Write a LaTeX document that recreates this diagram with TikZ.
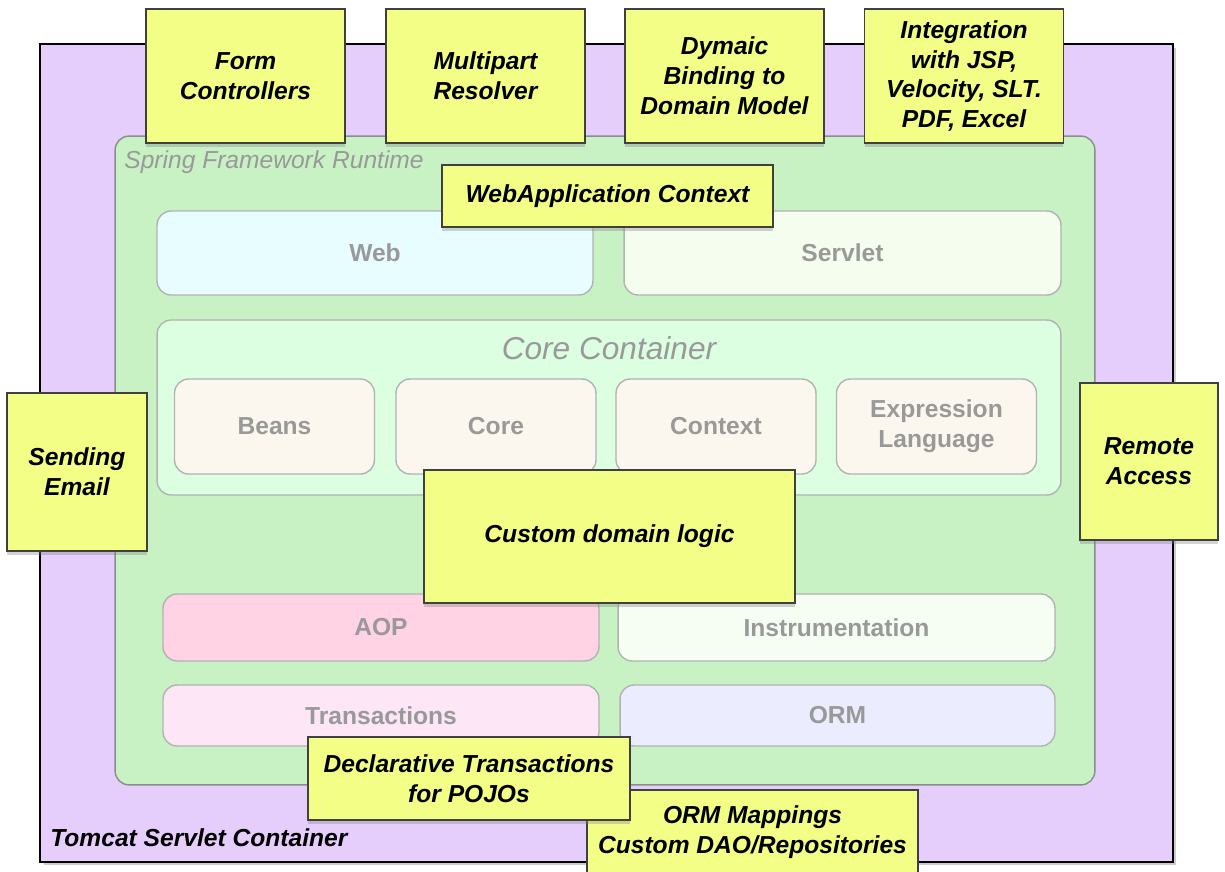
\documentclass[tikz,border=0pt]{standalone}
\usepackage{fontspec}
\setmainfont{Liberation Sans}
\usetikzlibrary{shadows}

\definecolor{tomcatbg}{RGB}{230,206,252}
\definecolor{runtimebg}{RGB}{200,242,196}
\definecolor{corebg}{RGB}{220,255,226}
\definecolor{notebg}{RGB}{243,254,134}
\definecolor{webbg}{RGB}{232,253,255}
\definecolor{servletbg}{RGB}{245,254,238}
\definecolor{beanbg}{RGB}{252,247,238}
\definecolor{aopbg}{RGB}{255,210,228}
\definecolor{instrbg}{RGB}{246,254,244}
\definecolor{transbg}{RGB}{253,230,246}
\definecolor{ormbg}{RGB}{235,236,254}

\begin{document}
\begin{tikzpicture}[x=0.02cm,y=-0.02cm,
  note/.style={draw=black!75,line width=1pt,fill=notebg,inner sep=0,align=center,
    drop shadow={opacity=.35,shadow xshift=0pt,shadow yshift=-2pt},
    font=\fontsize{14}{17}\selectfont\bfseries\itshape},
  module/.style={draw=black!30,line width=.8pt,rounded corners=8pt,inner sep=0,align=center,
    text=black!40,font=\fontsize{14}{17}\selectfont\bfseries},
  title/.style={inner sep=0,text=black!40,font=\itshape}
]
\useasboundingbox (0,0) rectangle (1225,872);

% containers
\node[draw=black,line width=1pt,fill=tomcatbg,minimum width=22.66cm,minimum height=16.36cm,
  drop shadow={opacity=.4,shadow xshift=2pt,shadow yshift=-2pt}] (tomcat) at (606.5,453) {};
\node[anchor=west,inner sep=0,font=\fontsize{14}{17}\selectfont\bfseries\itshape] (tomcatlbl) at (50,838) {Tomcat Servlet Container};
\node[draw=black!45,line width=.8pt,fill=runtimebg,rounded corners=8pt,minimum width=19.6cm,minimum height=12.98cm] (runtime) at (605,460.5) {};
\node[title,anchor=west,font=\fontsize{14}{17}\selectfont\itshape] (runtimelbl) at (124,162) {Spring Framework Runtime};

% modules
\node[module,fill=webbg,minimum width=8.72cm,minimum height=1.68cm] (web) at (375,253) {Web};
\node[module,fill=servletbg,minimum width=8.74cm,minimum height=1.68cm] (servlet) at (842.5,253) {Servlet};
\node[module,fill=corebg,minimum width=18.08cm,minimum height=3.5cm] (core) at (609,407.5) {};
\node[title,font=\fontsize{18}{21}\selectfont\itshape] (corelbl) at (609,348) {Core Container};
\foreach \cx/\nm/\txt in {274.5/beans/Beans, 496/corem/Core, 716/context/Context, 936.5/el/{Expression\\Language}}
  \node[module,fill=beanbg,minimum width=4cm,minimum height=1.9cm] (\nm) at (\cx,426.5) {\txt};
\node[module,fill=aopbg,minimum width=8.72cm,minimum height=1.34cm] (aop) at (381,627.5) {AOP};
\node[module,fill=instrbg,minimum width=8.74cm,minimum height=1.34cm] (instr) at (836.5,627.5) {Instrumentation};
\node[module,fill=transbg,minimum width=8.72cm,minimum height=1.22cm] (trans) at (381,715.5) {Transactions};
\node[module,fill=ormbg,minimum width=8.7cm,minimum height=1.22cm] (orm) at (837.5,715.5) {ORM};

% notes
\foreach \cx/\nm/\txt in {245.5/form/{Form\\Controllers}, 485.5/multipart/{Multipart\\Resolver},
    724.5/binding/{Dymaic\\Binding to\\Domain Model}, 964/integration/{Integration\\with JSP,\\Velocity, SLT.\\PDF, Excel}}
  \node[note,minimum width=3.98cm,minimum height=2.68cm] (\nm) at (\cx,76) {\txt};
\node[note,minimum width=6.62cm,minimum height=1.24cm] (webctx) at (607.5,196) {WebApplication Context};
\node[note,minimum width=2.8cm,minimum height=3.16cm] (email) at (77,472) {Sending\\Email};
\node[note,minimum width=2.76cm,minimum height=3.14cm] (remote) at (1149,461.5) {Remote\\Access};
\node[note,minimum width=7.42cm,minimum height=2.66cm] (domain) at (609.5,536.5) {Custom domain logic};
\node[note,minimum width=6.62cm,minimum height=1.68cm] (ormmap) at (752.5,832) {ORM Mappings\\Custom DAO/Repositories};
\node[note,minimum width=6.44cm,minimum height=1.66cm] (decl) at (469,778.5) {Declarative Transactions\\for POJOs};
\end{tikzpicture}
\end{document}
